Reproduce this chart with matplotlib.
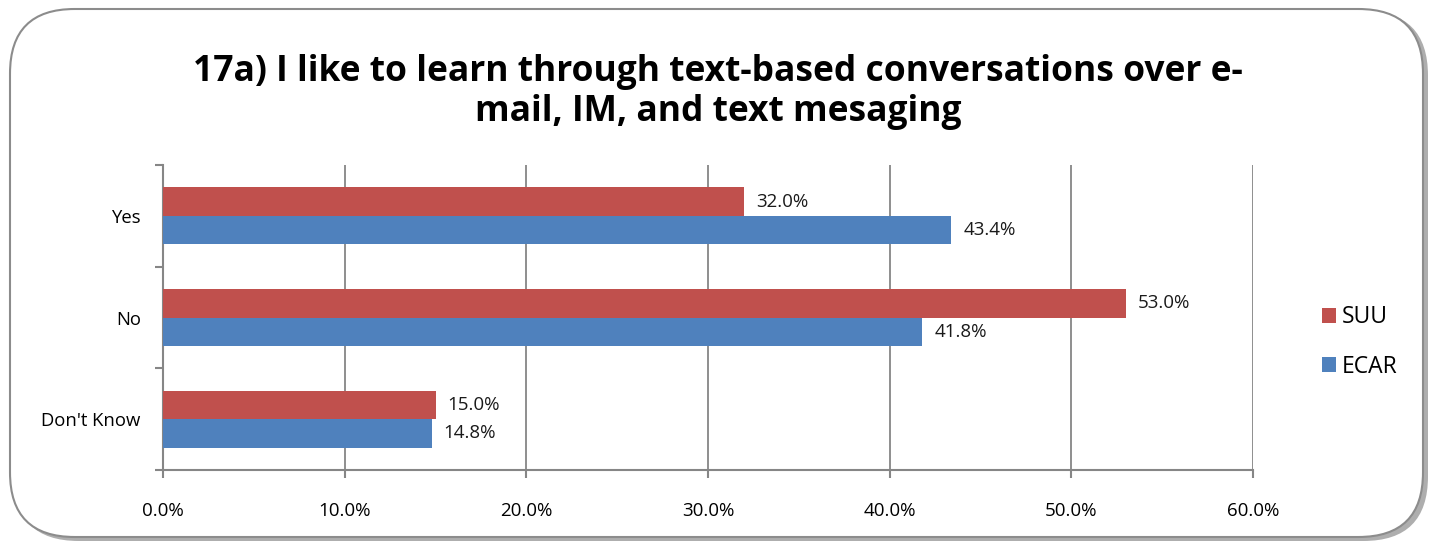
import matplotlib
matplotlib.use("Agg")
import matplotlib.pyplot as plt
from matplotlib.patches import FancyBboxPatch
import numpy as np

categories = ["Yes", "No", "Don't Know"]
suu = [32.0, 53.0, 15.0]
ecar = [43.4, 41.8, 14.8]
xticks = [0, 10, 20, 30, 40, 50, 60]
title = "17a) I like to learn through text-based conversations over e-\nmail, IM, and text mesaging"

SUU_C = "#C0504D"
ECAR_C = "#4F81BD"
FONT = ["Open Sans", "DejaVu Sans"]

fig = plt.figure(figsize=(14.35, 5.44), dpi=100)
fig.patch.set_facecolor("white")

# rounded frame with shadow
W, H = 1435, 544
sh = FancyBboxPatch((14 / W, 3 / H), 1414 / W, 530 / H,
                    boxstyle="round,pad=0,rounding_size=0.045",
                    transform=fig.transFigure, facecolor="#9a9a9a", edgecolor="none",
                    mutation_aspect=W / H, zorder=0, alpha=0.8)
fig.patches.append(sh)
box = FancyBboxPatch((10 / W, 7 / H), 1413 / W, 528 / H,
                     boxstyle="round,pad=0,rounding_size=0.045",
                     transform=fig.transFigure, facecolor="white", edgecolor="#8c8c8c",
                     linewidth=1.5, mutation_aspect=W / H, zorder=1)
fig.patches.append(box)

ax = fig.add_axes([163 / W, 1 - 470 / H, (1253 - 163) / W, (470 - 165) / H])
ax.set_zorder(2)
ax.patch.set_alpha(0)

n = len(categories)
y = np.arange(n)[::-1].astype(float)  # Yes at top
h = 0.28
ax.barh(y + h / 2, suu, height=h, color=SUU_C, label="SUU", zorder=3)
ax.barh(y - h / 2, ecar, height=h, color=ECAR_C, label="ECAR", zorder=3)

for yi, v in zip(y, suu):
    ax.text(v + 0.65, yi + h / 2, f"{v:.1f}%", va="center", ha="left", fontsize=13.5, family=FONT, color="#1a1a1a")
for yi, v in zip(y, ecar):
    ax.text(v + 0.65, yi - h / 2, f"{v:.1f}%", va="center", ha="left", fontsize=13.5, family=FONT, color="#1a1a1a")

ax.set_xlim(0, 60)
ax.set_ylim(-0.5, n - 0.5)
ax.set_xticks(xticks)
ax.set_xticklabels([f"{t:.1f}%" for t in xticks], fontsize=13.5, family=FONT)
ax.set_yticks(y)
ax.set_yticklabels(categories, fontsize=13.3, family=FONT)
ax.tick_params(axis="y", length=0, pad=16)
ax.tick_params(axis="x", length=6, color="#868686", width=1.5, pad=17, direction="out")
# y-axis boundary ticks
ax.set_yticks(np.arange(-0.5, n, 1.0), minor=True)
ax.tick_params(axis="y", which="minor", length=6, color="#868686", width=1.5, direction="out")

ax.grid(axis="x", color="#868686", linewidth=1.3, zorder=0)
for s in ["top", "right"]:
    ax.spines[s].set_visible(False)
for s in ["left", "bottom"]:
    ax.spines[s].set_color("#868686")
    ax.spines[s].set_linewidth(1.5)

fig.text(718 / W, 1 - 92 / H, title, ha="center", va="center", fontsize=25.5,
         fontweight="bold", family=FONT, linespacing=1.15)

leg = ax.legend(loc="center left", bbox_to_anchor=(1.044, 0.42), frameon=False,
                prop={"family": FONT, "size": 16.5}, handlelength=0.65, handleheight=0.65,
                handletextpad=0.25, labelspacing=1.1)

fig.savefig("out.png", dpi=100)
